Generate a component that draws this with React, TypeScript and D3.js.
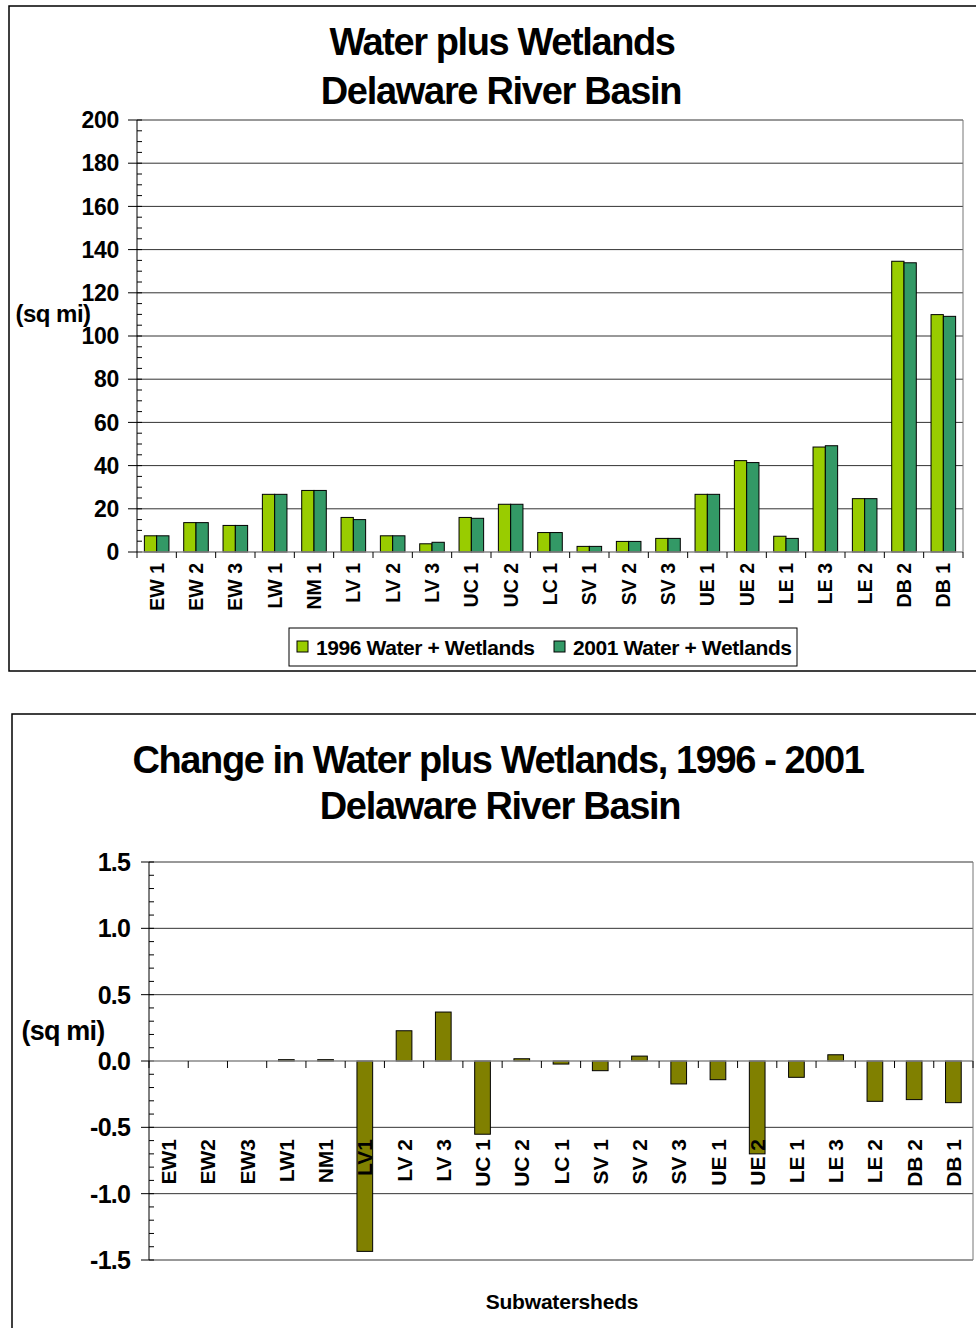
import React from "react";
import * as d3 from "d3";

const categories = [
  "EW 1", "EW 2", "EW 3", "LW 1", "NM 1", "LV 1", "LV 2", "LV 3", "UC 1", "UC 2", "LC 1",
  "SV 1", "SV 2", "SV 3", "UE 1", "UE 2", "LE 1", "LE 3", "LE 2", "DB 2", "DB 1",
];
const changeLabels = [
  "EW1", "EW2", "EW3", "LW1", "NM1", "LV1", "LV 2", "LV 3", "UC 1", "UC 2", "LC 1",
  "SV 1", "SV 2", "SV 3", "UE 1", "UE 2", "LE 1", "LE 3", "LE 2", "DB 2", "DB 1",
];
const water1996 = [7.5, 13.6, 12.3, 26.7, 28.5, 16.0, 7.5, 3.8, 16.0, 22.1, 9.0, 2.6, 4.9, 6.3, 26.7, 42.3, 7.3, 48.6, 24.7, 134.6, 109.9];
const water2001 = [7.5, 13.6, 12.3, 26.7, 28.5, 15.0, 7.5, 4.5, 15.6, 22.1, 9.0, 2.6, 4.9, 6.3, 26.7, 41.4, 6.3, 49.2, 24.7, 133.9, 109.1];
const change = [0, 0, 0, 0.01, 0.01, -1.435, 0.228, 0.369, -0.552, 0.017, -0.023, -0.073, 0.037, -0.173, -0.141, -0.7, -0.123, 0.047, -0.304, -0.291, -0.314];
const seriesNames = ["1996 Water + Wetlands", "2001 Water + Wetlands"];
const topTicks = [0, 20, 40, 60, 80, 100, 120, 140, 160, 180, 200];
const bottomTicks = [-1.5, -1.0, -0.5, 0.0, 0.5, 1.0, 1.5];

const FONT = "'Liberation Sans', Arial, sans-serif";
const colors = ["#99cc00", "#339966"];
const olive = "#808000";

const TopChart: React.FC = () => {
  const left = 137, right = 963, top = 120, bottom = 552;
  const x0 = d3.scaleBand<string>().domain(categories).range([left, right]).paddingInner(0.375).paddingOuter(0.1875);
  const x1 = d3.scaleBand<number>().domain([0, 1]).range([0, x0.bandwidth()]);
  const y = d3.scaleLinear().domain([0, 200]).range([bottom, top]);
  const minor = d3.range(0, 201, 5);
  const step = x0.step();
  const series = [water1996, water2001];
  return (
    <g>
      <rect x={9} y={6} width={980} height={665} fill="#fff" stroke="#000" strokeWidth={1.5} />
      <text x={502} y={55} textAnchor="middle" fontSize={38} fontWeight="bold" letterSpacing={-1.4}>Water plus Wetlands</text>
      <text x={501} y={104} textAnchor="middle" fontSize={38} fontWeight="bold" letterSpacing={-1.3}>Delaware River Basin</text>
      {topTicks.map((t) => (
        <g key={t}>
          {t > 0 && <line x1={left} x2={right} y1={y(t)} y2={y(t)} stroke="#333" strokeWidth={1} />}
          <line x1={left - 9} x2={left} y1={y(t)} y2={y(t)} stroke="#000" />
          <text x={119} y={y(t)} dy="0.36em" textAnchor="end" fontSize={23} fontWeight="bold" letterSpacing={-0.3}>{t}</text>
        </g>
      ))}
      {minor.map((t) => (
        <line key={t} x1={left} x2={left + 5} y1={y(t)} y2={y(t)} stroke="#000" />
      ))}
      <line x1={right} x2={right} y1={top} y2={bottom} stroke="#777" />
      {categories.map((c, i) =>
        series.map((s, k) => (
          <rect key={c + k} x={x0(c)! + x1(k)!} y={y(s[i])} width={x1.bandwidth()} height={bottom - y(s[i])}
            fill={colors[k]} stroke="#000" strokeWidth={1} />
        ))
      )}
      <line x1={left} x2={right} y1={bottom} y2={bottom} stroke="#888" strokeWidth={1.5} />
      <line x1={left} x2={left} y1={top} y2={bottom} stroke="#000" />
      {d3.range(categories.length + 1).map((i) => (
        <line key={i} x1={left + i * step} x2={left + i * step} y1={bottom} y2={bottom + 6} stroke="#000" />
      ))}
      {categories.map((c) => (
        <text key={c} transform={`translate(${x0(c)! + x0.bandwidth() / 2},563) rotate(-90)`} dy="0.36em"
          textAnchor="end" fontSize={19.5} fontWeight="bold">{c}</text>
      ))}
      <text x={53} y={313} dy="0.36em" textAnchor="middle" fontSize={24} fontWeight="bold" letterSpacing={-0.5}>(sq mi)</text>
      <rect x={289} y={628} width={508} height={38} fill="#fff" stroke="#000" strokeWidth={1} />
      {seriesNames.map((n, k) => {
        const sx = k === 0 ? 297 : 554;
        return (
          <g key={n}>
            <rect x={sx} y={641} width={11} height={11} fill={colors[k]} stroke="#000" strokeWidth={1} />
            <text x={sx + 19} y={647} dy="0.36em" fontSize={21} fontWeight="bold" letterSpacing={-0.4}>{n}</text>
          </g>
        );
      })}
    </g>
  );
};

const BottomChart: React.FC = () => {
  const left = 149, right = 973, top = 862, bottom = 1260;
  const x = d3.scaleBand<string>().domain(changeLabels).range([left, right]).paddingInner(0.6).paddingOuter(0.3);
  const y = d3.scaleLinear().domain([-1.5, 1.5]).range([bottom, top]);
  const minor = d3.range(-15, 16).map((v) => v / 10);
  const step = x.step();
  const y0 = y(0);
  return (
    <g>
      <rect x={12} y={714} width={980} height={640} fill="#fff" stroke="#000" strokeWidth={1.5} />
      <text x={498} y={773} textAnchor="middle" fontSize={38} fontWeight="bold" letterSpacing={-1.4}>Change in Water plus Wetlands, 1996 - 2001</text>
      <text x={500} y={819} textAnchor="middle" fontSize={38} fontWeight="bold" letterSpacing={-1.3}>Delaware River Basin</text>
      {bottomTicks.map((t) => (
        <g key={t}>
          {t !== 0 && <line x1={left} x2={right} y1={y(t)} y2={y(t)} stroke="#333" strokeWidth={1} />}
          <line x1={left - 8} x2={left} y1={y(t)} y2={y(t)} stroke="#000" />
          <text x={130} y={y(t)} dy="0.36em" textAnchor="end" fontSize={25} fontWeight="bold" letterSpacing={-0.8}>{t.toFixed(1)}</text>
        </g>
      ))}
      {minor.map((t) => (
        <line key={t} x1={left} x2={left + 5} y1={y(t)} y2={y(t)} stroke="#000" />
      ))}
      <line x1={right} x2={right} y1={top} y2={bottom} stroke="#777" />
      {changeLabels.map((c, i) => (
        <rect key={c} x={x(c)!} y={Math.min(y(change[i]), y0)} width={x.bandwidth()}
          height={Math.abs(y(change[i]) - y0)} fill={olive} stroke="#000" strokeWidth={1} />
      ))}
      <line x1={left} x2={right} y1={y0} y2={y0} stroke="#888" strokeWidth={1.5} />
      <line x1={left} x2={left} y1={top} y2={bottom} stroke="#000" />
      {d3.range(changeLabels.length + 1).map((i) => (
        <line key={i} x1={left + i * step} x2={left + i * step} y1={y0} y2={y0 + 7} stroke="#000" />
      ))}
      {changeLabels.map((c) => (
        <text key={c} transform={`translate(${x(c)! + x.bandwidth() / 2},1139) rotate(-90)`} dy="0.36em"
          textAnchor="end" fontSize={21} fontWeight="bold">{c}</text>
      ))}
      <text x={63} y={1030} dy="0.36em" textAnchor="middle" fontSize={27} fontWeight="bold" letterSpacing={-0.8}>(sq mi)</text>
      <text x={562} y={1301} dy="0.36em" textAnchor="middle" fontSize={21} fontWeight="bold" letterSpacing={-0.2}>Subwatersheds</text>
    </g>
  );
};

const App: React.FC = () => (
  <svg width={976} height={1328} style={{ position: "absolute", left: 0, top: 0, background: "#fff" }}
    fontFamily={FONT}>
    <TopChart />
    <BottomChart />
  </svg>
);

export default App;
